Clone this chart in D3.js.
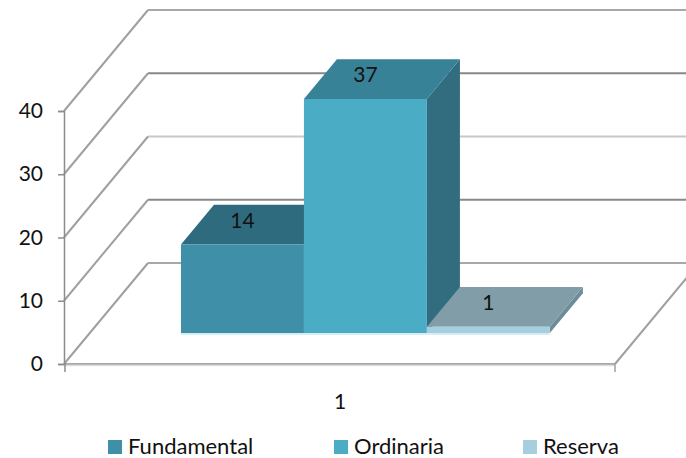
<!DOCTYPE html>
<html lang="en">
<head>
<meta charset="utf-8">
<title>Fundamental, Ordinaria, Reserva</title>
<script src="https://cdnjs.cloudflare.com/ajax/libs/d3/7.8.5/d3.min.js"></script>
<style>
  html, body { margin: 0; padding: 0; background: #fff; }
  svg { display: block; }
  text { font-family: Lato, "Open Sans", sans-serif; font-size: 21px; fill: #111; }
</style>
</head>
<body>
<div id="chart"></div>
<script>

var categories = ["1"];
var seriesNames = ["Fundamental", "Ordinaria", "Reserva"];
var seriesValues = [14, 37, 1];
var yTicks = [0, 10, 20, 30, 40];

var frontColors = ["#3f8fa8", "#4bacc6", "#a5cfde"];
var topColors = ["#2f6b7e", "#388298", "#819da8"];
var sideColors = ["#2f6b7e", "#316d7e", "#6c8c99"];
// the grid lines in the picture are not all the same weight
var gridColors = ["#a8a8a8", "#888888", "#c8c8c8", "#888888", "#a8a8a8"];

var width = 686, height = 458;

var svg = d3.select("#chart").append("svg")
  .attr("width", width)
  .attr("height", height);

var y = d3.scaleLinear().domain([0, 40]).range([364, 111]);
// floor width of the front edge
var x = d3.scaleLinear().domain([0, 1]).range([64, 615]);
// depth of the floor, 0 = front, 1 = back wall
var depthX = d3.scaleLinear().domain([0, 1]).range([0, 84]);
var depthY = d3.scaleLinear().domain([0, 1]).range([0, 101]);

var catScale = d3.scaleBand().domain(categories).range([0, 1]);
var barScale = d3.scaleBand().domain(seriesNames).range([0.1655, 0.835]);
var barFront = 0.307, barBack = 0.70;

function px(u, d) { return x(u) + depthX(d); }
function py(v, d) { return y(v) - depthY(d); }
function pt(u, v, d) { return px(u, d) + "," + py(v, d); }

/* walls and floor lines */
var grid = svg.append("g");
yTicks.forEach(function(t, i) {
  grid.append("line")
    .attr("x1", px(0, 1)).attr("y1", py(t, 1))
    .attr("x2", width + 20).attr("y2", py(t, 1))
    .attr("stroke", gridColors[i])
    .attr("stroke-width", 2);
  // light edge gives the soft look of the diagonals
  grid.append("line")
    .attr("x1", px(0, 0)).attr("y1", py(t, 0))
    .attr("x2", px(0, 1)).attr("y2", py(t, 1))
    .attr("stroke", "#a0a0a0")
    .attr("stroke-width", 2);
});
// right hand edge of the floor
grid.append("line")
  .attr("x1", px(1, 0)).attr("y1", py(0, 0))
  .attr("x2", px(1, 1)).attr("y2", py(0, 1))
  .attr("stroke", "#a0a0a0")
  .attr("stroke-width", 2);
// front edge of the floor
grid.append("line")
  .attr("x1", px(0, 0)).attr("y1", py(0, 0))
  .attr("x2", px(1, 0)).attr("y2", py(0, 0))
  .attr("stroke", "#8c8c8c")
  .attr("stroke-width", 1.5);
grid.append("line")
  .attr("x1", px(0, 0)).attr("y1", py(0, 0) + 1.5)
  .attr("x2", px(1, 0)).attr("y2", py(0, 0) + 1.5)
  .attr("stroke", "#dedede")
  .attr("stroke-width", 1.5);
// tick under the right end
grid.append("line")
  .attr("x1", px(1, 0)).attr("y1", py(0, 0))
  .attr("x2", px(1, 0)).attr("y2", py(0, 0) + 8)
  .attr("stroke", "#a0a0a0")
  .attr("stroke-width", 1.5);

/* y axis */
var yAxis = d3.axisLeft(y).tickValues(yTicks).tickSize(6).tickPadding(15).tickFormat(d3.format("d"));
var axisG = svg.append("g")
  .attr("transform", "translate(64,0)")
  .call(yAxis);
axisG.selectAll("path, line").attr("stroke", "#8c8c8c").attr("stroke-width", 1.5);
axisG.selectAll("text").attr("fill", "#111").style("font-size", "21px").style("font-family", "Lato, sans-serif");
grid.append("line")
  .attr("x1", 65).attr("y1", 364)
  .attr("x2", 65).attr("y2", 372)
  .attr("stroke", "#8c8c8c")
  .attr("stroke-width", 1.5);

/* bars, left to right so that each one covers the side of the one before */
var bars = svg.append("g");
seriesNames.forEach(function(name, i) {
  var u0 = catScale(categories[0]) + barScale(name) * catScale.bandwidth();
  var u1 = u0 + barScale.bandwidth() * catScale.bandwidth();
  var v = seriesValues[i];

  bars.append("polygon")
    .attr("points", [pt(u1, 0, barFront), pt(u1, 0, barBack), pt(u1, v, barBack), pt(u1, v, barFront)].join(" "))
    .attr("fill", sideColors[i]);
  bars.append("polygon")
    .attr("points", [pt(u0, v, barFront), pt(u0, v, barBack), pt(u1, v, barBack), pt(u1, v, barFront)].join(" "))
    .attr("fill", topColors[i]);
  bars.append("polygon")
    .attr("points", [pt(u0, 0, barFront), pt(u0, v, barFront), pt(u1, v, barFront), pt(u1, 0, barFront)].join(" "))
    .attr("fill", frontColors[i]);
  // pale strip along the foot of the bar
  bars.append("rect")
    .attr("x", px(u0, barFront))
    .attr("y", py(0, barFront))
    .attr("width", px(u1, barFront) - px(u0, barFront))
    .attr("height", 2)
    .attr("fill", "#d6edf4");
});

/* value labels on the top faces */
seriesNames.forEach(function(name, i) {
  var u0 = barScale(name);
  var uMid = u0 + barScale.bandwidth() / 2;
  svg.append("text")
    .attr("x", px(uMid, barFront))
    .attr("y", py(seriesValues[i], (barFront + barBack) / 2) + 3)
    .attr("text-anchor", "middle")
    .text(seriesValues[i]);
});

/* category label */
svg.append("text")
  .attr("x", 340)
  .attr("y", 409)
  .attr("text-anchor", "middle")
  .text(categories[0]);

/* legend */
var legendX = d3.scaleOrdinal().domain(seriesNames).range([108, 334, 523]);
var legend = svg.selectAll("g.legend").data(seriesNames).enter().append("g")
  .attr("class", "legend")
  .attr("transform", function(d) { return "translate(" + legendX(d) + ",440)"; });
legend.append("rect")
  .attr("width", 14)
  .attr("height", 14)
  .attr("fill", function(d, i) { return frontColors[i]; });
legend.append("text")
  .attr("x", 20)
  .attr("y", 14)
  .style("font-size", "22px")
  .text(function(d) { return d; });

</script>
</body>
</html>
